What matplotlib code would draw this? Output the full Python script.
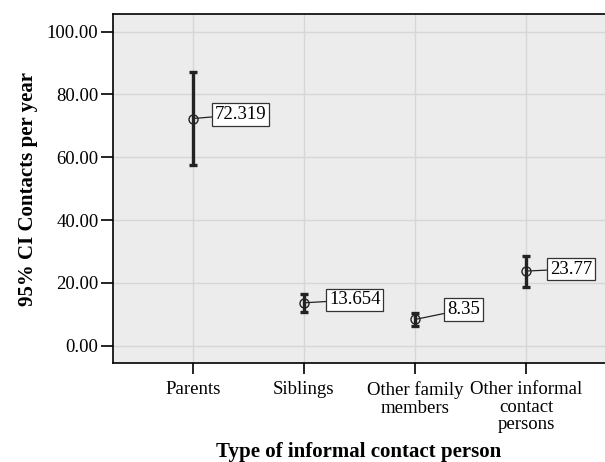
import numpy as np
import matplotlib
matplotlib.use('Agg')
import matplotlib.pyplot as plt

categories = ['Parents', 'Siblings', 'Other family\nmembers', 'Other informal\ncontact\npersons']
means = [72.319, 13.654, 8.35, 23.77]
ci_low = [57.5, 10.8, 6.2, 18.8]
ci_high = [87.0, 16.5, 10.4, 28.7]
labels = ['72.319', '13.654', '8.35', '23.77']
# label offsets in pixels (right, up)
offsets = [(22, 4), (25, 3), (32, 10), (24, 2)]

plt.rcParams['font.family'] = ['Liberation Serif', 'DejaVu Serif']

fig = plt.figure(figsize=(6.05, 4.62), dpi=100)
ax = fig.add_axes([113/605, 1-363/462, 1-113/605, (363-14)/462])
ax.set_facecolor('#ececec')

x = np.arange(len(categories))
means = np.array(means)
yerr = [means - np.array(ci_low), np.array(ci_high) - means]

ax.errorbar(x, means, yerr=yerr, fmt='none', ecolor='#222222', elinewidth=2.4,
            capsize=3, capthick=2.4, zorder=3)
ax.plot(x, means, 'o', mfc='none', mec='#222222', ms=6.5, mew=1.0, zorder=4)

for xi, m, lab, off in zip(x, means, labels, offsets):
    ax.annotate(lab, xy=(xi, m), xytext=off, textcoords='offset pixels',
                ha='left', va='center', fontsize=13.5,
                bbox=dict(boxstyle='square,pad=0.15', fc='white', ec='#333333', lw=0.9),
                arrowprops=dict(arrowstyle='-', color='#222222', lw=0.9,
                                shrinkA=0, shrinkB=0),
                zorder=5)

ax.set_xlim(-0.72, 3.712)
ax.set_ylim(-5.5, 105.6)
ax.set_yticks([0, 20, 40, 60, 80, 100])
ax.set_yticklabels(['%.2f' % v for v in [0, 20, 40, 60, 80, 100]])
ax.set_xticks(x)
ax.set_xticklabels(categories, linespacing=1.05)

ax.grid(True, color='#d6d6d6', lw=1.0)
ax.set_axisbelow(True)
for s in ['left', 'bottom', 'top']:
    ax.spines[s].set_linewidth(1.2)
ax.spines['right'].set_visible(False)

ax.tick_params(axis='y', length=9, width=1.2, pad=1.5, labelsize=13.5)
ax.tick_params(axis='x', length=8, width=1.2, pad=5, labelsize=13.5)

ax.set_ylabel('95% CI Contacts per year', fontsize=15, fontweight='bold', labelpad=6)
ax.set_xlabel('Type of informal contact person', fontsize=15, fontweight='bold', labelpad=6)

fig.savefig('out.png', dpi=100)
